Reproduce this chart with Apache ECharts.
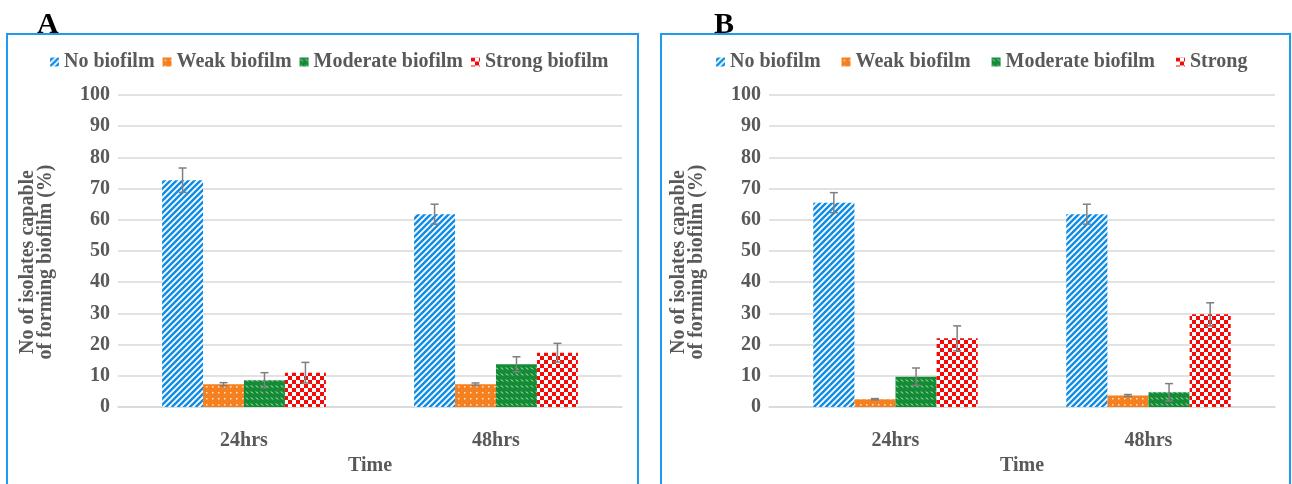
<!DOCTYPE html>
<html>
<head>
<meta charset="utf-8">
<script src="https://cdn.jsdelivr.net/npm/echarts@6/dist/echarts.min.js"></script>
<style>
  html, body { margin: 0; padding: 0; background: #fff; }
  #main { width: 1292px; height: 484px; }
</style>
</head>
<body>
<div id="main"></div>
<script>
// data
var categories = ['24hrs', '48hrs'];
var yTicks = [0, 10, 20, 30, 40, 50, 60, 70, 80, 90, 100];

// panel A
var aNo = [72.7, 61.8],      aNoErr = [3.9, 3.2];
var aWeak = [7.3, 7.3],      aWeakErr = [0.5, 0.4];
var aModerate = [8.6, 13.7], aModerateErr = [2.4, 2.4];
var aStrong = [11.0, 17.4],  aStrongErr = [3.3, 3.0];

// panel B
var bNo = [65.5, 61.8],      bNoErr = [3.2, 3.2];
var bWeak = [2.5, 3.7],      bWeakErr = [0.2, 0.3];
var bModerate = [9.7, 4.7],  bModerateErr = [2.8, 2.8];
var bStrong = [22.0, 29.7],  bStrongErr = [4.0, 3.7];

var namesA = ['No biofilm', 'Weak biofilm', 'Moderate biofilm', 'Strong biofilm'];
var namesB = ['No biofilm', 'Weak biofilm', 'Moderate biofilm', 'Strong'];

// pattern fills
function tile(w, h, draw) {
  var c = document.createElement('canvas');
  c.width = w; c.height = h;
  draw(c.getContext('2d'), w, h);
  return { image: c, repeat: 'repeat' };
}
var blueFill = tile(6, 6, function (ctx, w, h) {
  ctx.fillStyle = '#0f8de6'; ctx.fillRect(0, 0, w, h);
  ctx.strokeStyle = '#fff'; ctx.lineWidth = 1.8;
  ctx.beginPath();
  ctx.moveTo(-1, h + 1); ctx.lineTo(w + 1, -1);
  ctx.moveTo(-1, 1); ctx.lineTo(1, -1);
  ctx.moveTo(w - 1, h + 1); ctx.lineTo(w + 1, h - 1);
  ctx.stroke();
});
var orangeFill = tile(6, 6, function (ctx, w, h) {
  ctx.fillStyle = '#f5801f'; ctx.fillRect(0, 0, w, h);
  ctx.fillStyle = '#ffe6cc'; ctx.fillRect(2, 2, 1.5, 1.5);
});
var greenFill = tile(5, 6, function (ctx, w, h) {
  ctx.fillStyle = '#148c35'; ctx.fillRect(0, 0, w, h);
  ctx.strokeStyle = '#e6f5e9'; ctx.lineWidth = 1;
  ctx.beginPath(); ctx.moveTo(1, 1.5); ctx.lineTo(3, 3.5); ctx.stroke();
});
var redFill = tile(8, 8, function (ctx, w, h) {
  ctx.fillStyle = '#fff'; ctx.fillRect(0, 0, w, h);
  ctx.fillStyle = '#f50a0a';
  ctx.fillRect(0, 0, 4, 4); ctx.fillRect(4, 4, 4, 4);
});
var fills = [blueFill, orangeFill, greenFill, redFill];

var txt = { fontFamily: 'Liberation Serif', fontWeight: 'bold', fontSize: 20, color: '#595959' };

function barSeries(name, data, k, gi) {
  return {
    name: name, type: 'bar', xAxisIndex: gi, yAxisIndex: gi,
    data: data, barGap: '0%', barCategoryGap: '35%',
    itemStyle: { color: fills[k] }
  };
}

function errSeries(vals, errs, k, gi) {
  var d = vals.map(function (v, i) { return [i, v - errs[i], v + errs[i]]; });
  return {
    type: 'custom', xAxisIndex: gi, yAxisIndex: gi, z: 5,
    data: d,
    renderItem: function (params, api) {
      var band = api.size([1, 0])[0];
      var bw = band * 0.65 / 4;
      var dx = (k - 1.5) * bw;
      var lo = api.coord([api.value(0), api.value(1)]);
      var hi = api.coord([api.value(0), api.value(2)]);
      var x = lo[0] + dx;
      var cw = 4;
      var st = { stroke: '#7f7f7f', lineWidth: 1.5 };
      return {
        type: 'group',
        children: [
          { type: 'line', shape: { x1: x, y1: lo[1], x2: x, y2: hi[1] }, style: st },
          { type: 'line', shape: { x1: x - cw, y1: hi[1], x2: x + cw, y2: hi[1] }, style: st },
          { type: 'line', shape: { x1: x - cw, y1: lo[1], x2: x + cw, y2: lo[1] }, style: st }
        ]
      };
    }
  };
}

function xAxisFor(gi) {
  return {
    type: 'category', gridIndex: gi, data: categories,
    axisLine: { lineStyle: { color: '#d9d9d9', width: 1.5 } },
    axisTick: { show: false },
    axisLabel: Object.assign({ margin: 24 }, txt),
    name: 'Time', nameLocation: 'middle', nameGap: 49, nameTextStyle: txt
  };
}
function yAxisFor(gi) {
  return {
    type: 'value', gridIndex: gi, min: yTicks[0], max: yTicks[yTicks.length - 1], interval: 10,
    axisLine: { show: false }, axisTick: { show: false },
    axisLabel: Object.assign({ margin: 8 }, txt),
    splitLine: { lineStyle: { color: '#d9d9d9', width: 1.5 } },
    name: 'No of isolates capable\nof forming biofilm (%)',
    nameLocation: 'middle', nameGap: 63,
    nameTextStyle: Object.assign({ lineHeight: 18, padding: [0, 22, 0, 0] }, txt)
  };
}

var series = [];
[[aNo, aNoErr], [aWeak, aWeakErr], [aModerate, aModerateErr], [aStrong, aStrongErr]].forEach(function (p, k) {
  series.push(barSeries(namesA[k], p[0], k, 0));
});
[[bNo, bNoErr], [bWeak, bWeakErr], [bModerate, bModerateErr], [bStrong, bStrongErr]].forEach(function (p, k) {
  series.push(barSeries(namesB[k], p[0], k, 1));
});
[[aNo, aNoErr], [aWeak, aWeakErr], [aModerate, aModerateErr], [aStrong, aStrongErr]].forEach(function (p, k) {
  series.push(errSeries(p[0], p[1], k, 0));
});
[[bNo, bNoErr], [bWeak, bWeakErr], [bModerate, bModerateErr], [bStrong, bStrongErr]].forEach(function (p, k) {
  series.push(errSeries(p[0], p[1], k, 1));
});

var myChart = echarts.init(document.getElementById('main'));
var option = {
  animation: false,
  backgroundColor: '#fff',
  legend: [
    { data: namesA, left: 45, top: 47, itemWidth: 9, itemHeight: 9, itemGap: 8, icon: 'rect',
      textStyle: txt, selectedMode: false },
    { data: namesB, left: 711, top: 47, itemWidth: 9, itemHeight: 9, itemGap: 21, icon: 'rect',
      textStyle: txt, selectedMode: false }
  ],
  grid: [
    { left: 118, right: 670, top: 95, bottom: 77 },
    { left: 769, right: 17, top: 95, bottom: 77 }
  ],
  xAxis: [xAxisFor(0), xAxisFor(1)],
  yAxis: [yAxisFor(0), yAxisFor(1)],
  series: series,
  graphic: [
    { type: 'rect', shape: { x: 7, y: 34, width: 631, height: 470 }, style: { fill: 'none', stroke: '#1e9bf0', lineWidth: 2 }, z: -1 },
    { type: 'rect', shape: { x: 661, y: 34, width: 629, height: 470 }, style: { fill: 'none', stroke: '#1e9bf0', lineWidth: 2 }, z: -1 },
    { type: 'text', left: 37, top: 10, style: { text: 'A', font: 'bold 30px "Liberation Serif"', fill: '#000' } },
    { type: 'text', left: 714, top: 10, style: { text: 'B', font: 'bold 30px "Liberation Serif"', fill: '#000' } }
  ]
};
myChart.setOption(option);
</script>
</body>
</html>
